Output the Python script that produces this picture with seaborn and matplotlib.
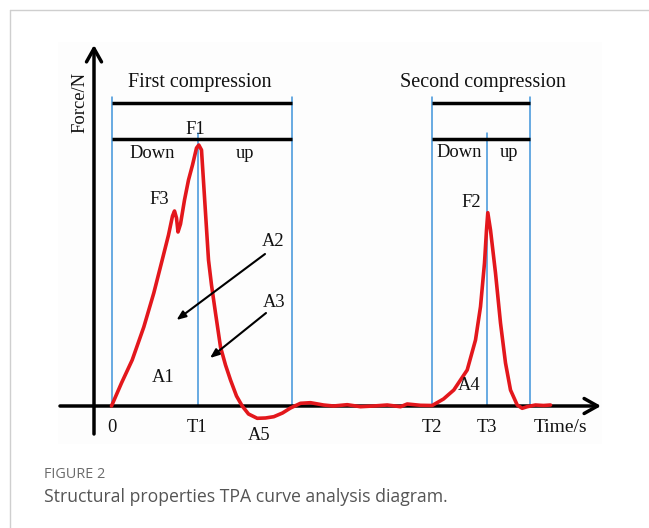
import matplotlib
matplotlib.use("Agg")
import matplotlib.pyplot as plt
from matplotlib.lines import Line2D
import seaborn as sns
import pandas as pd

# ---------------- data ----------------
time_s = [0, 1.0, 2.07, 3.23, 4.23, 5.07, 5.7, 6.1, 6.3, 6.5, 6.65, 6.9, 7.3, 7.7, 8.1,
          8.5, 8.73, 9.0, 9.3, 9.7, 10.0, 10.4, 10.9, 11.4, 11.9, 12.5, 13.07, 13.7,
          14.57, 15.4, 16.23, 17.1, 17.9, 18.9, 19.9, 21.2, 22.2, 23.57, 24.9, 26.2,
          27.57, 28.9, 29.57, 30.9, 32.07, 33.2, 34.23, 35.57, 36.4, 36.9, 37.3, 37.5,
          37.63, 37.9, 38.4, 38.9, 39.4, 39.9, 40.57, 41.07, 41.57, 42.4, 43.2, 43.9]
force_n = [0, 2.3, 4.6, 7.9, 11.3, 14.6, 17.1, 19.0, 19.5, 18.8, 17.4, 18.2, 20.6, 22.6, 24.1,
           25.8, 26.1, 25.6, 20.9, 14.6, 12.1, 9.3, 5.9, 4.1, 2.6, 1.0, 0.0, -0.8,
           -1.23, -1.2, -1.07, -0.7, -0.2, 0.27, 0.33, 0.1, 0.0, 0.13, -0.07, 0.0,
           0.1, -0.07, 0.2, 0.07, 0.05, 0.7, 1.6, 3.6, 6.6, 9.93, 14.3, 17.6,
           19.33, 17.6, 13.3, 8.3, 4.3, 1.6, 0.1, -0.23, -0.07, 0.1, 0.05, 0.1]

# phase boundaries (time) : start, T1, end of 1st, T2, T3, end of 2nd
phase_times = [0.05, 8.65, 18.05, 32.05, 37.5, 41.85]
tick_labels = ["0", "T1", "T2", "T3"]
tick_times = [0.05, 8.55, 32.05, 37.55]

df = pd.DataFrame({"Time": time_s, "Force": force_n})

# ---------------- figure ----------------
sns.set_theme(style="white")
plt.rcParams["font.family"] = ["Liberation Serif", "DejaVu Serif"]

W, H = 649, 528
fig = plt.figure(figsize=(W / 100, H / 100), dpi=100)
fig.patch.set_facecolor("white")
ax = fig.add_axes([58 / W, (H - 444) / H, 544 / W, 402 / H])
ax.set_facecolor("#fdfdfd")
ax.set_xlim(-5.35, 49.05)
ax.set_ylim(-3.8, 36.4)
for s in ax.spines.values():
    s.set_visible(False)
ax.set_xticks([])
ax.set_yticks([])

blue = "#3f94db"
red = "#e3171c"

# blue vertical lines
t0, t1, te1, t2, t3, te2 = phase_times
for t in (t0, te1, t2, te2):
    ax.plot([t, t], [0, 30.9], color=blue, lw=1.1, zorder=1)
for t in (t1, t3):
    ax.plot([t, t], [0, 27.3], color=blue, lw=1.1, zorder=1)

# black bars
for (a, b) in ((t0, te1), (t2, te2)):
    for y in (30.3, 26.7):
        ax.plot([a, b], [y, y], color="black", lw=2.5, solid_capstyle="butt", zorder=2)

# axes arrows
ax.annotate("", xy=(48.95, 0), xytext=(-5.15, 0),
            arrowprops=dict(arrowstyle="->,head_length=0.8,head_width=0.45", lw=2.5,
                            color="black", shrinkA=0, shrinkB=0), annotation_clip=False, zorder=2)
ax.annotate("", xy=(-1.75, 36.1), xytext=(-1.75, -2.8),
            arrowprops=dict(arrowstyle="->,head_length=0.8,head_width=0.45", lw=2.5,
                            color="black", shrinkA=0, shrinkB=0), annotation_clip=False, zorder=2)

# curve
sns.lineplot(data=df, x="Time", y="Force", sort=False, estimator=None, color=red,
             lw=2.6, ax=ax, zorder=3, solid_joinstyle="round", solid_capstyle="round")
ax.set_xlabel("")
ax.set_ylabel("")

# area arrows
for (tail, head) in (((15.35, 15.2), (6.5, 8.6)), ((15.45, 9.3), (9.85, 4.8))):
    ax.annotate("", xy=head, xytext=tail,
                arrowprops=dict(arrowstyle="-|>,head_length=0.45,head_width=0.18", lw=1.5,
                                color="black", shrinkA=0, shrinkB=0), zorder=4)

fs = 13.3
def lab(x, y, s, size=fs, **kw):
    ax.text(x, y, s, fontsize=size, ha="center", va="baseline", color="#111111",
            clip_on=False, **kw)

lab(8.85, 31.9, "First compression", size=14.5)
lab(37.15, 31.9, "Second compression", size=14.5)
lab(8.35, 27.2, "F1")
lab(4.05, 24.8, "Down")
lab(13.35, 24.8, "up")
lab(34.75, 24.9, "Down")
lab(39.75, 24.9, "up")
lab(4.75, 20.2, "F3")
lab(35.95, 19.93, "F2")
lab(16.15, 16.0, "A2")
lab(16.25, 9.93, "A3")
lab(5.15, 2.43, "A1")
lab(35.75, 1.6, "A4")
lab(14.75, -3.4, "A5")
for t, s in zip(tick_times, tick_labels):
    lab(t, -2.6, s)
lab(44.95, -2.6, "Time/s", size=14)
ax.text(-3.15, 30.4, "Force/N", fontsize=fs, rotation=90, ha="center", va="center",
        color="#111111", clip_on=False)

# card frame
fig.add_artist(Line2D([9.5 / W, 9.5 / W], [0, (H - 9.5) / H], color="#cfcfcf", lw=1.0))
fig.add_artist(Line2D([9.5 / W, 1], [(H - 9.5) / H, (H - 9.5) / H], color="#cfcfcf", lw=1.0))

# caption
fig.text(43.5 / W, (H - 474) / H, "FIGURE 2", fontsize=10.4, color="#6b6b6b",
         family=["Open Sans", "DejaVu Sans"], ha="left", va="center")
fig.text(43.5 / W, (H - 497) / H, "Structural properties TPA curve analysis diagram.",
         fontsize=12.7, color="#555555", family=["Open Sans", "DejaVu Sans"],
         ha="left", va="center")

fig.savefig("out.png", dpi=100, facecolor="white")
